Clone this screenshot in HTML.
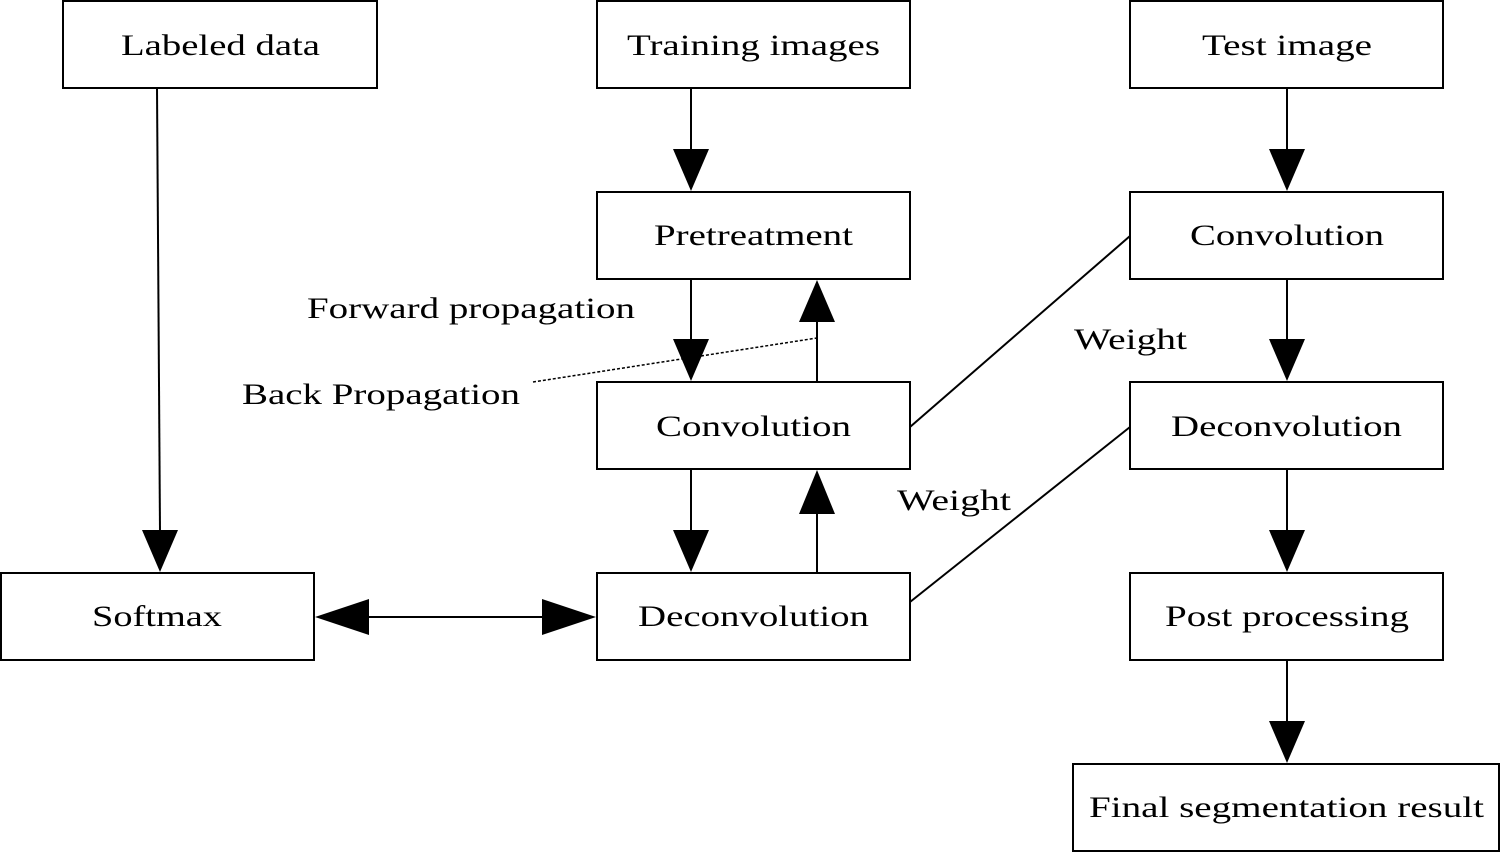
<!DOCTYPE html>
<html><head><meta charset="utf-8"><style>
html,body{margin:0;padding:0;background:#fff;}
svg{display:block;}
text{font-family:"Liberation Serif",serif;font-size:30px;fill:#000;}
</style></head><body>
<svg width="1500" height="852" viewBox="0 0 1500 852" xmlns="http://www.w3.org/2000/svg">
<g fill="#fff" stroke="#000" stroke-width="2">
<rect x="63" y="1" width="314" height="87"/>
<rect x="597" y="1" width="313" height="87"/>
<rect x="1130" y="1" width="313" height="87"/>
<rect x="597" y="192" width="313" height="87"/>
<rect x="1130" y="192" width="313" height="87"/>
<rect x="597" y="382" width="313" height="87"/>
<rect x="1130" y="382" width="313" height="87"/>
<rect x="1" y="573" width="313" height="87"/>
<rect x="597" y="573" width="313" height="87"/>
<rect x="1130" y="573" width="313" height="87"/>
<rect x="1073" y="764" width="426" height="87"/>
</g>
<g stroke="#000" stroke-width="2" fill="none">
<line x1="157" y1="88" x2="160" y2="532"/>
<line x1="691" y1="88" x2="691" y2="150"/>
<line x1="691" y1="279" x2="691" y2="340"/>
<line x1="817" y1="382" x2="817" y2="320"/>
<line x1="691" y1="469" x2="691" y2="530"/>
<line x1="817" y1="573" x2="817" y2="512"/>
<line x1="1287" y1="88" x2="1287" y2="150"/>
<line x1="1287" y1="279" x2="1287" y2="340"/>
<line x1="1287" y1="469" x2="1287" y2="530"/>
<line x1="1287" y1="660" x2="1287" y2="722"/>
<line x1="360" y1="617" x2="550" y2="617"/>
<line x1="910" y1="427" x2="1130" y2="236"/>
<line x1="910" y1="602" x2="1130" y2="427"/>
</g>
<line x1="533" y1="382" x2="817" y2="338" stroke="#000" stroke-width="1.5" stroke-dasharray="3,2"/>
<g fill="#000">
<polygon points="142,530 178,530 160,572"/>
<polygon points="673,149 709,149 691,191"/>
<polygon points="673,339 709,339 691,381"/>
<polygon points="799,322 835,322 817,280"/>
<polygon points="673,530 709,530 691,572"/>
<polygon points="799,514 835,514 817,470"/>
<polygon points="1269,149 1305,149 1287,191"/>
<polygon points="1269,339 1305,339 1287,381"/>
<polygon points="1269,530 1305,530 1287,572"/>
<polygon points="1269,721 1305,721 1287,763"/>
<polygon points="315,617 369,599 369,635"/>
<polygon points="596,617 542,599 542,635"/>
</g>
<text x="121" y="55" textLength="199" lengthAdjust="spacingAndGlyphs">Labeled data</text>
<text x="627" y="55" textLength="253" lengthAdjust="spacingAndGlyphs">Training images</text>
<text x="1202" y="55" textLength="170" lengthAdjust="spacingAndGlyphs">Test image</text>
<text x="654" y="245" textLength="199" lengthAdjust="spacingAndGlyphs">Pretreatment</text>
<text x="1190" y="245" textLength="194" lengthAdjust="spacingAndGlyphs">Convolution</text>
<text x="656" y="436" textLength="195" lengthAdjust="spacingAndGlyphs">Convolution</text>
<text x="1171" y="436" textLength="231" lengthAdjust="spacingAndGlyphs">Deconvolution</text>
<text x="92" y="626" textLength="130" lengthAdjust="spacingAndGlyphs">Softmax</text>
<text x="638" y="626" textLength="231" lengthAdjust="spacingAndGlyphs">Deconvolution</text>
<text x="1165" y="626" textLength="244" lengthAdjust="spacingAndGlyphs">Post processing</text>
<text x="1089" y="817" textLength="395" lengthAdjust="spacingAndGlyphs">Final segmentation result</text>
<text x="307" y="318" textLength="328" lengthAdjust="spacingAndGlyphs">Forward propagation</text>
<text x="242" y="404" textLength="278" lengthAdjust="spacingAndGlyphs">Back Propagation</text>
<text x="1074" y="349" textLength="113" lengthAdjust="spacingAndGlyphs">Weight</text>
<text x="897" y="510" textLength="114" lengthAdjust="spacingAndGlyphs">Weight</text>
</svg>
</body></html>
